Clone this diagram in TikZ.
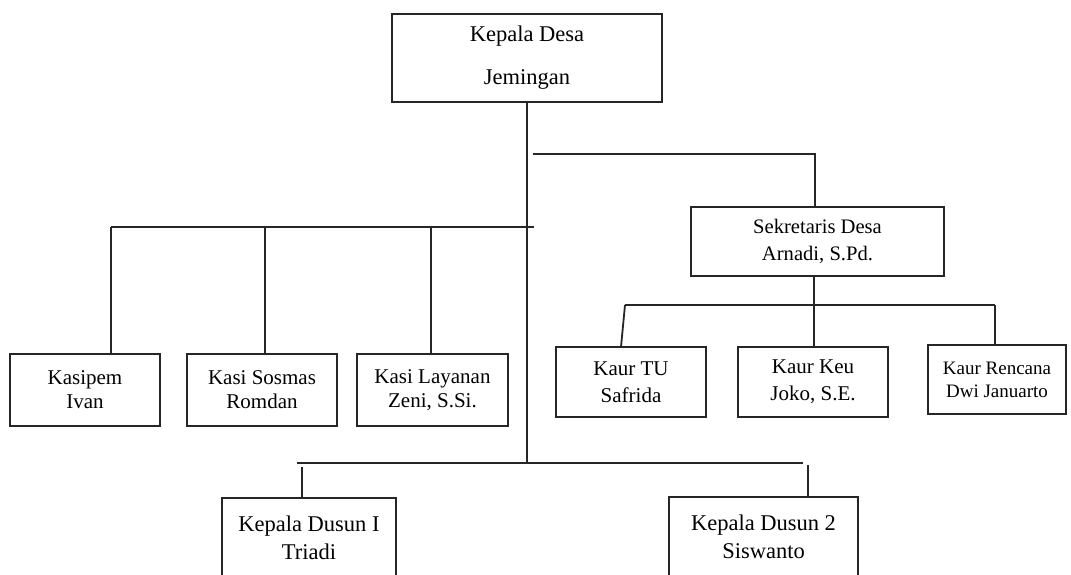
\documentclass[tikz,border=0pt]{standalone}
\usepackage{fontspec}
\setmainfont{Liberation Serif}
\definecolor{linec}{HTML}{262626}
\begin{document}
\begin{tikzpicture}[x=1pt,y=-1pt,
  box/.style={draw=linec, line width=1.9pt, align=center, inner sep=0pt, fill=white},
  conn/.style={draw=linec, line width=1.8pt},
  fbig/.style={font=\fontsize{22.5}{28}\selectfont},
  fmid/.style={font=\fontsize{21}{24}\selectfont}]
\clip (0,0) rectangle (1071,575);
\fill[white] (0,0) rectangle (1071,575);

% nodes
\node[box, minimum width=270pt, minimum height=88pt, font=\fontsize{22.5}{43}\selectfont] (top) at (527,58) {Kepala Desa\\Jemingan};
\node[box, minimum width=253pt, minimum height=69pt, font=\fontsize{20.6}{27}\selectfont] (sek) at (817.5,241.5) {Sekretaris Desa\\Arnadi, S.Pd.};

\node[box, fmid, minimum width=150pt, minimum height=72pt] (k1) at (85,390) {Kasipem\\Ivan};
\node[box, fmid, minimum width=150pt, minimum height=72pt] (k2) at (262,390) {Kasi Sosmas\\Romdan};
\node[box, fmid, minimum width=151pt, minimum height=72pt] (k3) at (432.5,390) {Kasi Layanan\\Zeni, S.Si.};

\node[box, font=\fontsize{21}{27}\selectfont, minimum width=150pt, minimum height=70pt] (u1) at (631,382) {Kaur TU\\Safrida};
\node[box, font=\fontsize{21}{27}\selectfont, minimum width=150pt, minimum height=70pt] (u2) at (813,382) {Kaur Keu\\Joko, S.E.};
\node[box, font=\fontsize{19}{23}\selectfont, minimum width=138pt, minimum height=69pt] (u3) at (997,379.5) {Kaur Rencana\\Dwi Januarto};

\node[box, fbig, minimum width=174pt, minimum height=80pt] (d1) at (309,538) {Kepala Dusun I\\Triadi};
\node[box, fbig, minimum width=189pt, minimum height=80pt] (d2) at (763.5,537) {Kepala Dusun 2\\Siswanto};

% junction coordinates
\coordinate (mainEnd) at (527,463);
\coordinate (sj) at (533,154);
\coordinate (sv) at (815,154);
\coordinate (lbL) at (111,227);
\coordinate (lbR) at (534,227);
\coordinate (lb2) at (265,227);
\coordinate (lb3) at (431,227);
\coordinate (rbL) at (625,305);
\coordinate (rbR) at (995,305);
\coordinate (rbM) at (814,305);
\coordinate (dbL) at (297,463);
\coordinate (dbR) at (803,463);
\coordinate (dv1) at (302,467);
\coordinate (dv2) at (808,465);

% connectors
\draw[conn] (top.south) -- (mainEnd);
\draw[conn] (sj) -- (sv) -- (sv |- sek.north);
\draw[conn] (lbL) -- (lbR);
\draw[conn] (lbL) -- (lbL |- k1.north);
\draw[conn] (lb2) -- (lb2 |- k2.north);
\draw[conn] (lb3) -- (lb3 |- k3.north);
\draw[conn] (sek.south -| rbM) -- (rbM);
\draw[conn] (rbL) -- (rbR);
\draw[conn] (rbL) -- (621,347);
\draw[conn] (rbM) -- (rbM |- u2.north);
\draw[conn] (rbR) -- (rbR |- u3.north);
\draw[conn] (dbL) -- (dbR);
\draw[conn] (dv1) -- (dv1 |- d1.north);
\draw[conn] (dv2) -- (dv2 |- d2.north);
\end{tikzpicture}
\end{document}
